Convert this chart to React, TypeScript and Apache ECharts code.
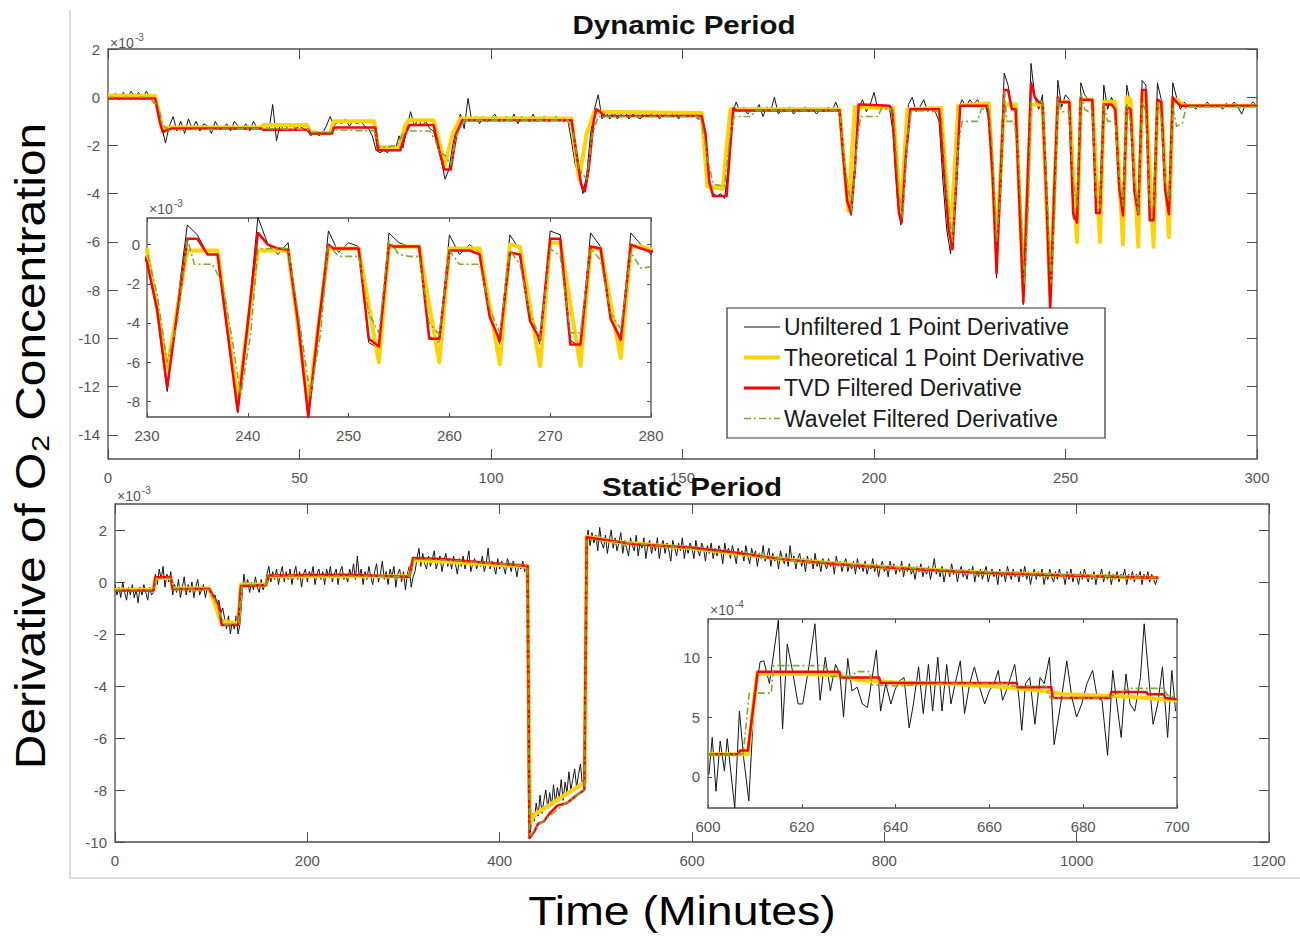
import React, { useEffect, useRef } from "react";
import * as echarts from "echarts";

type Pt = [number, number];

const FONT = '"Liberation Sans", "DejaVu Sans", Arial, sans-serif';

const NAME_RAW = "Unfiltered 1 Point Derivative";
const NAME_THEO = "Theoretical 1 Point Derivative";
const NAME_TVD = "TVD Filtered Derivative";
const NAME_WAV = "Wavelet Filtered Derivative";

// ================= Dynamic period (values ×10^-3) =================
// unfiltered derivative, one sample per minute starting at minute 0
const dynUnfilteredStartMin = 0;
const dynUnfilteredStepMin = 1;
const dynUnfiltered = [
  0.1, 0.05, 0.15, -0.1, 0.2, -0.05, 0.25, 0.0, 0.2, -0.1,
  0.25, 0.0, 0.1, -0.5, -1.2, -1.9, -1.2, -0.8, -1.4, -1.0,
  -1.5, -0.9, -1.3, -1.0, -1.4, -1.1, -1.2, -1.5, -1.0, -1.3,
  -1.3, -1.1, -1.4, -1.0, -1.2, -1.3, -1.1, -1.4, -1.0, -1.3,
  -1.2, -1.1, -1.4, -0.3, -1.8, -1.1, -1.4, -1.2, -1.1, -1.3,
  -1.2, -1.3, -1.4, -1.6, -1.4, -1.6, -1.5, -1.2, -0.8, -1.2,
  -1.0, -1.1, -0.9, -1.2, -1.0, -1.1, -1.0, -1.2, -1.3, -1.6,
  -2.2, -2.3, -2.2, -2.3, -2.0, -2.2, -1.6, -2.1, -1.3, -0.6,
  -1.2, -0.9, -1.2, -1.0, -1.3, -1.4, -2.0, -2.6, -3.4, -3.0,
  -2.0, -1.2, -0.7, -1.3, -0.05, -1.0, -0.8, -1.1, -0.8, -1.0,
  -0.9, -0.7, -1.0, -0.9, -0.8, -1.0, -0.7, -1.1, -0.8, -0.9,
  -1.0, -0.7, -1.0, -0.9, -0.8, -1.0, -0.9, -0.8, -0.9, -1.0,
  -0.9, -1.8, -2.8, -3.2, -4.0, -3.2, -1.5, -0.5, 0.1, -0.9,
  -0.6, -0.9, -0.6, -0.9, -0.7, -0.6, -0.9, -0.7, -0.8, -0.9,
  -0.6, -0.8, -0.7, -0.6, -0.9, -0.6, -0.8, -0.8, -0.6, -0.9,
  -0.6, -0.7, -0.8, -0.6, -0.9, -0.9, -2.0, -3.6, -4.0, -4.1,
  -4.0, -4.2, -2.8, -0.7, -0.2, -0.6, -0.4, -0.7, -0.5, -0.6,
  -0.3, -0.8, -0.4, -0.6, 0.0, -0.7, -0.5, -0.6, -0.4, -0.7,
  -0.5, -0.6, -0.4, -0.6, -0.5, -0.7, -0.5, -0.6, -0.4, -0.6,
  -0.2, -0.6, -2.5, -4.0, -4.9, -3.0, -0.5, -0.1, -0.6, -0.3,
  0.2, -0.5, -0.3, -0.5, -0.4, -1.5, -4.0, -5.3, -2.5, -0.3,
  0.0, -0.6, -0.4, -0.1, -0.6, -0.4, -0.6, -1.0, -3.5, -5.5,
  -6.5, -3.5, -0.5, -0.1, -0.4, -0.1, -0.3, -0.1, -0.4, -0.3,
  -0.85, -3.5, -7.5, -3.0, 1.0, 0.5, -0.5, -0.5, -4.6, -8.6,
  -4.0, 1.4, 0.0, -0.5, 0.1, -4.2, -8.8, -4.2, 0.7, -0.4,
  0.1, -0.1, -5.0, -5.3, 0.6, 0.1, -0.1, -0.1, -4.7, -5.0,
  0.5, -0.5, 0.0, -0.4, -3.7, -5.1, 0.5, -0.3, -3.8, -5.1,
  0.7, 0.5, -4.9, -5.2, 0.6, -0.1, -3.6, -5.0, 0.6, 0.0,
  -0.5, -0.2, -0.4, -0.3, -0.5, -0.3, -0.4, -0.2, -0.4, -0.35,
  -0.3, -0.5, -0.25, -0.4, -0.2, -0.4, -0.7, -0.3, -0.35, -0.2, -0.35,
];

const dynTheoretical: Pt[] = [
  [0, 0.07], [12.3, 0.05], [14, -1.25], [40, -1.25], [40.5, -1.15], [52, -1.15], [52.8, -1.45], [58, -1.5],
  [59, -1.0], [69.5, -1.0], [70.5, -2.05], [76, -2.1], [77.5, -1.2], [78.5, -0.95], [85, -0.95], [88, -2.8],
  [90, -1.5], [92, -0.88], [121, -0.88], [123, -3.4], [125, -1.5], [127, -0.6], [155, -0.65], [156.5, -3.7],
  [160.5, -3.8], [162.5, -0.5], [191, -0.5], [193.3, -4.7], [195, -0.4], [205, -0.45], [207, -4.9], [208.7, -0.5],
  [217.5, -0.45], [220, -5.8], [222, -0.35], [230, -0.25], [232, -6.3], [234, -0.3], [237, -0.3], [239, -8.0],
  [241, -0.3], [244, -0.3], [246, -8.2], [248, -0.2], [251, -0.2], [253, -6.0], [254, -0.1], [257, -0.1],
  [259, -6.0], [260, -0.2], [263, -0.2], [265, -6.1], [266, 0.0], [267, -0.1], [269, -6.2], [270, 0.1],
  [271, 0.1], [273, -6.2], [274, -0.2], [275, -0.2], [277, -5.8], [278, -0.1], [279, -0.1], [281, -0.35],
  [300, -0.35],
];

const dynTVD: Pt[] = [
  [0, -0.05], [12.3, -0.05], [13.5, -1.0], [14.3, -1.45], [15.5, -1.35], [16.5, -1.3], [40, -1.3], [40.5, -1.35],
  [52.3, -1.35], [52.8, -1.5], [58.5, -1.5], [59, -1.25], [69.8, -1.25], [70.5, -2.2], [76.3, -2.2], [77.5, -1.6],
  [78.7, -1.15], [85, -1.15], [86.5, -2.2], [87.8, -3.0], [89.5, -3.0], [91, -1.5], [92.5, -0.95], [121, -0.95],
  [122, -2.0], [123.5, -3.6], [124.5, -3.9], [125.5, -3.0], [126.8, -1.0], [127.5, -0.5], [128.5, -0.6], [129.5, -0.78],
  [155, -0.78], [156, -1.5], [157, -3.5], [158, -4.1], [161.5, -4.1], [162.5, -2.0], [163.3, -0.45], [164, -0.55],
  [191, -0.55], [192, -2.5], [193, -4.3], [194, -4.8], [195, -3.0], [196, -0.3], [197, -0.3], [204, -0.35],
  [204.8, -0.55], [205.5, -2.5], [206.5, -4.8], [207.2, -5.2], [208.3, -2.5], [209.5, -0.5], [217, -0.5], [218, -2.5],
  [219.5, -5.5], [220.5, -6.3], [221.5, -3.5], [222.5, -0.35], [229.5, -0.35], [230, -0.9], [231, -3.3], [232, -7.3],
  [233, -3.5], [234, 0.3], [235, 0.3], [236, -0.5], [237, -0.5], [238, -4.5], [239, -8.5], [240, -4.0],
  [241, 0.6], [242, 0.0], [243, -0.2], [244, -0.25], [245, -4.0], [246, -8.8], [247, -4.2], [248, 0.0],
  [248.5, -0.2], [251, -0.2], [252, -4.8], [253, -5.2], [254, 0.0], [254.5, -0.1], [257, -0.1], [258, -4.8],
  [259, -4.8], [260, -0.3], [262, -0.3], [263, -0.5], [264, -3.7], [265, -4.9], [266, -0.4], [267, -0.5],
  [268, -3.9], [269, -4.85], [270, 0.3], [271, 0.3], [272, -5.1], [273, -5.1], [274, -0.1], [275, -0.2],
  [276, -3.8], [277, -4.85], [278, 0.0], [279, -0.2], [280, -0.35], [300, -0.35],
];

const dynWavelet: Pt[] = [
  [0, 0.0], [11, 0.0], [12, -0.25], [13, -0.3], [14.5, -1.2], [16, -1.35], [40, -1.3], [52, -1.35],
  [53, -1.45], [58, -1.45], [59, -1.35], [69.5, -1.4], [71, -2.1], [75.5, -2.0], [77, -1.5], [78, -1.4],
  [84, -1.4], [85.5, -1.8], [86.5, -2.3], [88, -2.4], [89.5, -2.8], [91, -1.6], [93, -0.95], [120, -0.95],
  [121.5, -1.5], [123, -3.0], [125, -3.4], [126.5, -1.5], [128, -0.8], [154, -0.8], [155, -1.05], [156.5, -2.5],
  [158, -3.6], [161, -3.7], [162.5, -1.5], [163.5, -0.8], [168, -0.8], [169, -0.55], [191, -0.55], [192.5, -3.0],
  [194.2, -4.7], [195.5, -2.0], [196.5, -0.8], [201, -0.8], [202, -0.45], [205, -0.5], [206.5, -4.0], [207.5, -5.0],
  [208.8, -1.5], [209.8, -0.55], [217.5, -0.6], [219, -4.0], [220.5, -6.0], [222, -2.0], [223, -1.0], [227, -1.0],
  [228, -0.5], [230, -0.4], [231, -2.5], [232, -6.0], [233, -4.0], [234, 0.3], [234.7, -1.0], [236.5, -1.0],
  [237.5, -2.0], [238.5, -5.0], [239.3, -7.7], [240.3, -4.5], [241, -0.2], [244, -0.2], [245, -3.5], [246.2, -7.7],
  [247.2, -4.6], [248, 0.0], [249, -0.6], [251, -0.6], [252, -3.5], [253, -4.5], [254, 0.2], [255, -0.5],
  [256, -0.6], [257, -0.6], [258, -4.0], [259, -4.6], [260, -0.3], [261, -1.0], [263, -1.0], [264, -3.3],
  [265, -4.5], [266, -0.3], [267, -1.0], [268, -3.5], [269, -4.8], [270, -0.2], [271, -0.6], [272, -4.5],
  [273, -4.5], [274, -0.2], [275, -0.8], [276, -3.5], [277, -4.3], [278, -0.4], [279, -1.2], [280.5, -1.1],
  [281.5, -0.4], [300, -0.4],
];

const dynTicksX = [0, 50, 100, 150, 200, 250, 300];
const dynTicksY = [2, 0, -2, -4, -6, -8, -10, -12, -14];
const dynInsetTicksX = [230, 240, 250, 260, 270, 280];
const dynInsetTicksY = [0, -2, -4, -6, -8];

// ================= Static period (values ×10^-3) =================
// unfiltered derivative, one reading every 2 minutes starting at minute 0
const statUnfilteredStartMin = 0;
const statUnfilteredStepMin = 2;
const statUnfiltered = [
  -0.1, -0.5, -0.2, -0.6, 0.0, -0.4, -0.7, -0.2, -0.5, -0.1,
  -0.6, -0.3, -0.8, -0.2, -0.5, -0.1, -0.4, -0.7, -0.2, -0.5,
  -0.4, 0.3, -0.1, 0.5, 0.1, 0.6, -0.2, 0.3, 0.0, 0.4,
  -0.5, -0.1, -0.4, 0.1, -0.6, -0.2, 0.2, -0.5, -0.1, -0.4,
  0.0, -0.6, -0.2, 0.1, -0.5, -0.3, -0.1, -0.6, -0.2, -0.4,
  -0.3, -0.7, -0.5, -0.9, -0.7, -1.2, -1.0, -1.4, -1.8, -1.3,
  -2.0, -1.5, -1.8, -1.3, -2.0, -1.6, -0.6, 0.3, -0.2, 0.1,
  -0.4, 0.0, -0.3, 0.2, -0.2, -0.4, 0.1, -0.3, -0.1, 0.3,
  0.6, 0.0, 0.4, 0.1, 0.5, -0.1, 0.3, 0.6, 0.0, 0.4,
  0.1, 0.5, -0.1, 0.3, 0.6, 0.1, 0.4, -0.2, 0.3, 0.5,
  0.0, 0.4, 0.2, 0.6, -0.1, 0.3, 0.5, 0.1, 0.4, -0.1,
  0.5, 0.2, 0.6, 0.0, 0.3, 0.5, -0.1, 0.4, 0.6, 0.1,
  0.3, 0.0, 0.5, 0.2, 0.7, 0.1, 1.0, 0.2, 0.5, -0.1,
  0.4, 0.1, 0.6, 0.2, -0.1, 0.4, 0.7, 0.0, 0.3, 0.8,
  0.1, 0.4, -0.1, 0.5, 0.2, 0.6, -0.2, 0.3, 0.5, 0.0,
  0.4, -0.3, 0.3, 0.6, -0.2, 0.2, 0.4, 0.9, 1.3, 0.6,
  1.1, 0.7, 0.5, 1.0, 0.6, 0.9, 1.2, 0.5, 0.8, 1.0,
  0.4, 0.8, 1.1, 0.6, 0.9, 0.5, 1.0, 0.7, 0.3, 0.9,
  0.6, 1.0, 0.5, 0.8, 1.2, 0.4, 0.7, 0.9, 0.5, 0.8,
  0.6, 1.0, 0.4, 0.7, 1.3, 0.5, 0.8, 0.6, 0.3, 0.9,
  0.5, 0.8, 0.6, 0.3, 0.9, 0.7, 0.4, 0.8, 0.6, 0.2,
  0.7, 0.5, 0.8, 0.4, 0.55, -8.8, -9.6, -8.9, -9.2, -8.5,
  -9.0, -8.2, -8.9, -8.4, -8.0, -8.7, -8.1, -8.6, -7.8, -8.5,
  -7.9, -8.3, -7.6, -8.4, -7.7, -8.1, -7.3, -8.0, -7.6, -7.2,
  -7.9, -7.4, -7.0, -7.8, -7.5, 1.6, 2.0, 1.4, 1.9, 1.5,
  1.8, 1.2, 2.1, 1.5, 1.3, 1.8, 1.1, 1.6, 2.0, 1.3,
  1.7, 1.2, 1.5, 1.9, 1.1, 1.6, 1.3, 1.0, 1.7, 1.4,
  1.2, 1.8, 1.0, 1.5, 1.3, 1.7, 0.9, 1.4, 1.6, 1.1,
  1.5, 1.2, 1.7, 0.9, 1.4, 1.6, 1.1, 1.5, 1.2, 0.8,
  1.6, 1.3, 1.0, 1.5, 1.2, 1.7, 0.9, 1.4, 1.1, 1.5,
  1.3, 0.9, 1.6, 1.2, 1.0, 1.5, 1.3, 0.8, 1.4, 1.1,
  1.5, 0.9, 1.3, 1.0, 1.4, 1.2, 0.7, 1.5, 1.1, 1.3,
  0.9, 1.4, 1.1, 0.7, 1.3, 1.0, 1.2, 0.8, 1.4, 1.0,
  0.7, 1.3, 1.0, 1.2, 0.6, 1.1, 0.9, 1.4, 0.8, 1.0,
  1.3, 0.6, 1.1, 0.8, 1.0, 0.5, 1.2, 0.9, 0.7, 1.1,
  0.6, 1.4, 0.8, 1.0, 0.5, 0.9, 1.1, 0.6, 0.9, 0.4,
  1.0, 0.7, 0.9, 0.5, 1.1, 0.6, 0.8, 0.4, 0.9, 0.7,
  0.5, 0.9, 0.6, 0.8, 0.3, 1.0, 0.6, 0.8, 0.4, 0.7,
  0.9, 0.4, 0.7, 0.5, 0.8, 0.3, 0.9, 0.5, 0.7, 0.4,
  0.8, 0.3, 0.6, 0.5, 0.9, 0.4, 0.7, 0.2, 0.6, 0.8,
  0.4, 0.6, 0.2, 0.8, 0.5, 0.7, 0.3, 0.6, 0.4, 0.8,
  0.2, 0.6, 0.4, 0.7, 0.3, 0.5, 0.1, 0.6, 0.4, 0.7,
  0.2, 0.5, 0.3, 0.6, 0.1, 0.5, 0.9, 0.3, 0.5, 0.2,
  0.6, 0.0, 0.4, 0.5, 0.2, 0.7, 0.3, 0.5, 0.0, 0.4,
  0.6, 0.2, 0.4, 0.1, 0.5, 0.3, 0.6, 0.0, 0.4, 0.2,
  0.5, 0.1, 0.4, 0.6, 0.0, 0.3, 0.5, 0.2, 0.4, -0.1,
  0.5, 0.2, 0.4, 0.0, 0.6, 0.3, 0.1, 0.5, 0.2, 0.4,
  0.0, 0.5, 0.2, 0.6, 0.1, 0.4, -0.1, 0.3, 0.5, 0.1,
  0.4, 0.2, 0.5, -0.1, 0.3, 0.1, 0.5, 0.2, 0.0, 0.4,
  0.1, 0.5, 0.2, 0.3, -0.1, 0.4, 0.1, 0.5, 0.0, 0.3,
  0.2, -0.1, 0.4, 0.1, 0.5, 0.2, 0.0, 0.3, 0.1, 0.4,
  -0.1, 0.3, 0.2, 0.5, 0.0, 0.3, 0.1, 0.4, -0.1, 0.3,
  0.1, 0.4, 0.0, 0.3, 0.2, 0.5, -0.1, 0.3, 0.1, 0.4,
  0.0, 0.3, 0.2, 0.4, -0.1, 0.3, 0.1, 0.4, 0.0, 0.3,
  0.1, -0.1, 0.2,
];

const statTheoretical: Pt[] = [
  [0, -0.3], [40, -0.3], [42, 0.15], [58, 0.15], [60, -0.25], [98, -0.25], [110, -1.5], [128, -1.6],
  [131, -0.1], [157, -0.1], [160, 0.22], [306, 0.22], [310, 0.85], [429, 0.6], [431.5, -9.3], [436, -8.95],
  [488.5, -7.7], [490.5, 1.75], [520, 1.55], [600, 1.3], [700, 0.86], [800, 0.58], [900, 0.37], [1000, 0.25],
  [1085, 0.15],
];

const statTVD: Pt[] = [
  [0, -0.33], [40, -0.33], [42, 0.18], [58, 0.18], [60, -0.27], [98, -0.27], [108, -0.9], [111, -1.65],
  [128, -1.65], [131, -0.15], [157, -0.12], [160, 0.25], [240, 0.28], [306, 0.2], [310, 0.92], [340, 0.88],
  [380, 0.76], [429, 0.62], [431, -9.85], [436, -9.6], [440, -9.3], [446, -9.2], [452, -8.9], [460, -8.6],
  [470, -8.5], [480, -8.2], [488, -8.0], [490.5, 1.72], [510, 1.62], [540, 1.45], [570, 1.38], [600, 1.32],
  [640, 1.15], [693, 0.88], [740, 0.72], [778, 0.62], [820, 0.52], [862, 0.43], [900, 0.36], [947, 0.3],
  [1000, 0.24], [1040, 0.2], [1085, 0.16],
];

const statWavelet: Pt[] = [
  [0, -0.3], [40, -0.3], [43, 0.15], [58, 0.15], [61, -0.25], [98, -0.3], [104, -0.7], [110, -1.3],
  [113, -1.65], [128, -1.6], [132, -0.1], [157, -0.1], [161, 0.25], [306, 0.22], [311, 0.88], [340, 0.85],
  [380, 0.75], [429, 0.62], [431, -9.8], [440, -9.35], [460, -8.75], [488, -8.0], [490.5, 1.6], [520, 1.55],
  [600, 1.28], [700, 0.85], [800, 0.58], [900, 0.38], [1000, 0.26], [1085, 0.16],
];

const statTicksX = [0, 200, 400, 600, 800, 1000, 1200];
const statTicksY = [2, 0, -2, -4, -6, -8, -10];

// ================= Static inset (values ×10^-4) =================
const statInsetUnfiltered: Pt[] = [
  [600.2, 0.2], [600.9, 3.3], [601.7, -1.2], [602.6, 3.0], [603.5, 0.5], [604.1, 3.2], [605.7, -2.6], [606.7, 5.5],
  [607.6, 1.6], [608.7, -2.0], [609.8, 6.1], [611.1, 9.6], [611.9, 9.7], [613.1, 7.8], [615.0, 13.1], [615.9, 4.0],
  [616.9, 11.1], [618.0, 8.9], [619.2, 6.1], [620.2, 6.1], [621.5, 9.2], [622.8, 12.8], [623.9, 6.4], [625.0, 10.0],
  [626.1, 7.2], [627.2, 9.4], [628.1, 8.6], [628.9, 5.0], [629.8, 9.9], [630.7, 7.2], [631.8, 7.5], [632.9, 6.1],
  [634.0, 5.8], [635.0, 8.3], [635.9, 10.6], [636.8, 5.5], [637.9, 7.8], [639.0, 6.1], [639.8, 7.2], [640.7, 8.0],
  [641.8, 8.3], [642.9, 4.1], [643.8, 6.1], [644.9, 9.2], [645.9, 5.3], [647.0, 9.4], [647.9, 5.5], [649.0, 10.0],
  [649.9, 5.5], [650.9, 9.4], [651.8, 6.1], [652.7, 7.8], [653.8, 9.7], [654.7, 5.3], [655.8, 7.8], [656.8, 9.2],
  [657.9, 7.5], [659.0, 6.1], [660.0, 7.2], [661.0, 7.8], [661.9, 8.9], [662.8, 6.4], [663.6, 7.2], [664.5, 8.3],
  [665.4, 9.4], [666.3, 6.6], [666.9, 3.9], [667.7, 7.8], [668.6, 8.3], [669.7, 4.4], [670.8, 8.3], [671.7, 7.8],
  [672.8, 10.0], [673.8, 2.7], [675.2, 6.1], [676.5, 9.7], [677.6, 6.6], [678.6, 5.0], [679.7, 6.1], [680.8, 7.8],
  [682.0, 8.9], [683.0, 6.6], [684.0, 6.4], [685.2, 1.8], [686.3, 8.9], [687.2, 6.1], [688.1, 3.3], [689.1, 8.6],
  [690.0, 6.1], [691.0, 5.5], [692.2, 8.3], [693.0, 12.8], [694.1, 7.8], [694.9, 4.4], [695.9, 6.1], [696.9, 9.2],
  [698.0, 3.3], [698.9, 8.9], [699.7, 5.5],
];

const statInsetTheoretical: Pt[] = [
  [600, 1.9], [608.5, 1.9], [610.5, 8.6], [620, 8.6], [628, 8.5], [632, 8.1], [640, 7.9], [650, 7.8],
  [660, 7.6], [666, 7.4], [673, 7.1], [676, 6.9], [690, 6.7], [700, 6.4],
];

const statInsetTVD: Pt[] = [
  [600, 1.9], [606.5, 1.9], [606.8, 2.2], [608.5, 2.2], [610.6, 8.8], [628, 8.8], [628.3, 8.3], [636.5, 8.3],
  [636.8, 7.85], [665.8, 7.85], [666, 7.5], [673.2, 7.5], [673.5, 6.6], [685.7, 6.6], [686, 7.1], [693.5, 7.1],
  [693.8, 6.9], [697.2, 6.9], [697.5, 6.6], [700, 6.5],
];

const statInsetWavelet: Pt[] = [
  [600, 1.9], [607.5, 1.9], [608.8, 7.0], [613.5, 7.0], [614, 9.3], [625, 9.3], [626, 8.4], [631, 8.4],
  [631.5, 8.8], [634.5, 8.8], [635, 7.7], [640, 7.6], [650, 7.8], [664, 7.8], [665, 7.6], [672, 7.6],
  [673, 6.6], [685, 6.6], [690, 7.4], [697, 7.4], [698, 6.8], [700, 6.6],
];

const statInsetTicksX = [600, 620, 640, 660, 680, 700];
const statInsetTicksY = [0, 5, 10];

// ================= styling =================
const AX = "#4d4d4d";
const LBL = "#555555";
const C_RAW = "#151515";
const C_THEO = "#FFD200";
const C_TVD = "#FF0000";
const C_WAV = "#77AC30";
const WAV_DASH = [7, 3, 2, 3];

function axisPair(kind: "x" | "y", gridIndex: number, min: number, max: number, ticks: number[], tickLen: number, margin: number, z: number) {
  const common: any = {
    type: "value", gridIndex, min, max, z, silent: true,
    splitLine: { show: false },
    axisLine: { show: false, onZero: false },
  };
  const tick = { show: true, inside: true, length: tickLen, customValues: ticks, lineStyle: { color: AX, width: 1 } };
  return [
    {
      ...common, position: kind === "x" ? "bottom" : "left", axisTick: tick,
      axisLabel: {
        show: true, customValues: ticks, color: LBL, fontSize: 15, fontFamily: FONT, margin,
        formatter: (v: number) => String(v),
      },
    },
    { ...common, position: kind === "x" ? "top" : "right", axisTick: tick, axisLabel: { show: false } },
  ];
}

function line(name: string, data: any[], axisIdx: number, color: string, width: number, dash: any, z: number) {
  return {
    type: "line", name, data, xAxisIndex: axisIdx, yAxisIndex: axisIdx, z,
    symbol: "none", showSymbol: false, clip: true, silent: true, animation: false,
    lineStyle: { color, width, type: dash || "solid", join: "round" },
    itemStyle: { color },
    emphasis: { disabled: true },
  };
}

function fourSeries(raw: any[], theo: any[], tvd: any[], wav: any[], axisIdx: number, z: number) {
  return [
    line(NAME_RAW, raw, axisIdx, C_RAW, 1, null, z),
    line(NAME_THEO, theo, axisIdx, C_THEO, 4, null, z),
    line(NAME_TVD, tvd, axisIdx, C_TVD, 2.5, null, z),
    line(NAME_WAV, wav, axisIdx, C_WAV, 1.6, WAV_DASH, z),
  ];
}

function expTexts(x: number, y: number, exp: string) {
  return [
    { type: "text", x, y, z: 50, style: { text: "×10", fontSize: 14, fontFamily: FONT, fill: LBL, align: "left", verticalAlign: "middle", textAlign: "left", textVerticalAlign: "middle" } },
    { type: "text", x: x + 25, y: y - 6, z: 50, style: { text: exp, fontSize: 10, fontFamily: FONT, fill: LBL, align: "left", verticalAlign: "middle", textAlign: "left", textVerticalAlign: "middle" } },
  ];
}

function buildOption() {
  const dynRaw = dynUnfiltered.map((v, i) => [dynUnfilteredStartMin + i * dynUnfilteredStepMin, v]);
  const statRaw = statUnfiltered.map((v, i) => [statUnfilteredStartMin + i * statUnfilteredStepMin, v]);

  const gridBase = { show: true, backgroundColor: "#ffffff", borderColor: AX, borderWidth: 1.3, containLabel: false, outerBoundsMode: "none" };

  const legendRows = [
    { name: NAME_RAW, color: C_RAW, width: 1.2, dash: null as any },
    { name: NAME_THEO, color: C_THEO, width: 4, dash: null as any },
    { name: NAME_TVD, color: C_TVD, width: 3, dash: null as any },
    { name: NAME_WAV, color: C_WAV, width: 1.6, dash: WAV_DASH },
  ];
  const legendTop = 308;
  const legendRowY = [327, 357.5, 388, 418.5];
  const legendGraphic: any[] = [
    { type: "rect", z: 60, shape: { x: 727, y: legendTop, width: 378, height: 130 }, style: { fill: "#ffffff", stroke: "#333333", lineWidth: 1.2 } },
  ];
  legendRows.forEach((r, i) => {
    legendGraphic.push({
      type: "line", z: 61, shape: { x1: 744, y1: legendRowY[i], x2: 780, y2: legendRowY[i] },
      style: { stroke: r.color, lineWidth: r.width, lineDash: r.dash || undefined },
    });
    legendGraphic.push({
      type: "text", z: 61, x: 784, y: legendRowY[i],
      style: { text: r.name, fontSize: 23, fontFamily: FONT, fill: "#1a1a1a", align: "left", verticalAlign: "middle", textAlign: "left", textVerticalAlign: "middle" },
    });
  });

  const titleStyle = { fontSize: 25, fontWeight: "bold", fontFamily: FONT, fill: "#111111", align: "center", verticalAlign: "middle", textAlign: "center", textVerticalAlign: "middle" };

  return {
    animation: false,
    backgroundColor: "#ffffff",
    grid: [
      { ...gridBase, left: 108, top: 49, width: 1149, height: 410, z: 0 },
      { ...gridBase, left: 147, top: 218, width: 504, height: 199, z: 5 },
      { ...gridBase, left: 115, top: 504, width: 1154, height: 338, z: 0 },
      { ...gridBase, left: 708, top: 619, width: 469, height: 189, z: 5 },
    ],
    xAxis: [
      ...axisPair("x", 0, 0, 300, dynTicksX, 10, 11, 1),
      ...axisPair("x", 1, 230, 280, dynInsetTicksX, 4, 11, 6),
      ...axisPair("x", 2, 0, 1200, statTicksX, 10, 11, 1),
      ...axisPair("x", 3, 600, 700, statInsetTicksX, 4, 11, 6),
    ],
    yAxis: [
      ...axisPair("y", 0, -15, 2, dynTicksY, 10, 8, 1),
      ...axisPair("y", 1, -8.8, 1.36, dynInsetTicksY, 4, 7, 6),
      ...axisPair("y", 2, -10, 3, statTicksY, 10, 8, 1),
      ...axisPair("y", 3, -2.6, 13.2, statInsetTicksY, 4, 8, 6),
    ],
    series: [
      ...fourSeries(dynRaw, dynTheoretical, dynTVD, dynWavelet, 0, 2),
      ...fourSeries(dynRaw, dynTheoretical, dynTVD, dynWavelet, 2, 7),
      ...fourSeries(statRaw, statTheoretical, statTVD, statWavelet, 4, 2),
      ...fourSeries(statInsetUnfiltered, statInsetTheoretical, statInsetTVD, statInsetWavelet, 6, 7),
    ],
    graphic: [
      { type: "line", z: 0, shape: { x1: 70, y1: 10, x2: 70, y2: 878 }, style: { stroke: "#d2d2d2", lineWidth: 1.5 } },
      { type: "line", z: 0, shape: { x1: 70, y1: 878, x2: 1300, y2: 878 }, style: { stroke: "#d2d2d2", lineWidth: 1.5 } },
      { type: "text", z: 70, x: 684, y: 25, scaleX: 1.18, style: { ...titleStyle, text: "Dynamic Period" } },
      { type: "text", z: 70, x: 692, y: 487, scaleX: 1.18, style: { ...titleStyle, text: "Static Period" } },
      ...expTexts(110, 43, "-3"),
      ...expTexts(149, 209, "-3"),
      ...expTexts(117, 496, "-3"),
      ...expTexts(710, 610, "-4"),
      ...legendGraphic,
      {
        type: "text", z: 70, x: 31, y: 446, rotation: Math.PI / 2, scaleX: 1.14,
        style: { text: "Derivative of O₂ Concentration", fontSize: 42, fontFamily: FONT, fill: "#000000", align: "center", verticalAlign: "middle", textAlign: "center", textVerticalAlign: "middle" },
      },
      {
        type: "text", z: 70, x: 682, y: 911, scaleX: 1.16,
        style: { text: "Time (Minutes)", fontSize: 40, fontFamily: FONT, fill: "#000000", align: "center", verticalAlign: "middle", textAlign: "center", textVerticalAlign: "middle" },
      },
    ],
  };
}

export default function App() {
  const ref = useRef<HTMLDivElement>(null);
  useEffect(() => {
    if (!ref.current) return;
    const chart = echarts.init(ref.current, null, { renderer: "svg" });
    chart.setOption(buildOption() as any);
    return () => chart.dispose();
  }, []);
  return (
    <div
      ref={ref}
      style={{ position: "fixed", left: 0, top: 0, width: 1300, height: 944, background: "#ffffff" }}
    />
  );
}
